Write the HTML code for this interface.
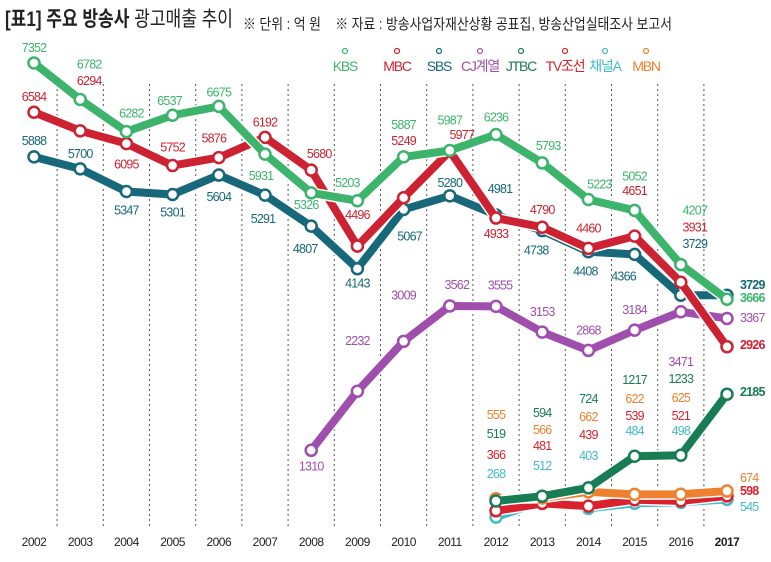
<!DOCTYPE html>
<html><head><meta charset="utf-8"><style>
body{margin:0;background:#fff;}
svg text{font-family:"Liberation Sans","Noto Sans CJK KR",sans-serif;}
</style></head><body>
<svg width="771" height="557" viewBox="0 0 771 557" xmlns="http://www.w3.org/2000/svg">
<g>
<text x="5" y="26" font-size="21" fill="#222" textLength="228" lengthAdjust="spacingAndGlyphs"><tspan font-weight="bold">[표1] 주요 방송사</tspan> 광고매출 추이</text>
<text x="243" y="29" font-size="15" fill="#222" textLength="429" lengthAdjust="spacingAndGlyphs">※ 단위 : 억 원 &#160;&#160;&#160;※ 자료 : 방송사업자재산상황 공표집, 방송산업실태조사 보고서</text>
</g>
<g id="grid"></g><g id="lines"></g><g id="labels"></g><g id="legend"></g><g id="axis"></g>
</svg>
<script>
const years=["2002","2003","2004","2005","2006","2007","2008","2009","2010","2011","2012","2013","2014","2015","2016","2017"];
const kbs=[7352,6782,6282,6537,6675,5931,5326,5203,5887,5987,6236,5793,5223,5052,4207,3666];
const mbc=[6584,6294,6095,5752,5876,6192,5680,4496,5249,5977,4933,4790,4460,4651,3931,2926];
const sbs=[5888,5700,5347,5301,5604,5291,4807,4143,5067,5280,4981,4738,4408,4366,3729,3729];
const cj=[null,null,null,null,null,null,1310,2232,3009,3562,3555,3153,2868,3184,3471,3367];
const jtbc=[null,null,null,null,null,null,null,null,null,null,519,594,724,1217,1233,2185];
const tvc=[null,null,null,null,null,null,null,null,null,null,366,481,439,539,521,598];
const cha=[null,null,null,null,null,null,null,null,null,null,268,512,403,484,498,545];
const mbn=[null,null,null,null,null,null,null,null,null,null,555,566,662,622,625,674];
const NS="http://www.w3.org/2000/svg";
function x(i){return 34+i*46.2;}
function y(v){return 63+(7352-v)*0.0641;}
function mk(tag,attrs,parent){const e=document.createElementNS(NS,tag);for(const k in attrs)e.setAttribute(k,attrs[k]);parent.appendChild(e);return e;}
const G=document.getElementById('grid'),L=document.getElementById('lines'),T=document.getElementById('labels'),LG=document.getElementById('legend'),AX=document.getElementById('axis');
for(let i=0;i<15;i++){const l=mk('line',{x1:x(i)+23.1,x2:x(i)+23.1,y1:84,y2:528,stroke:'#555','stroke-width':1,'stroke-dasharray':'2,3'},G);

}
years.forEach((yr,i)=>{const t=mk('text',{x:x(i),y:546,'font-size':12,'text-anchor':'middle',fill:'#222','font-weight':i==15?'bold':'normal','letter-spacing':'-0.5'},AX);t.textContent=yr;

});
const series=[
{n:'kbs',d:kbs,c:'#3cb46c',lab:'KBS',dy:[-15,-35,-18,-14,-14,22,12,-18,-32,-30,-17,-17,-15,-34,-54,0],dx:[0,9,5,-3,0,-4,-5,-10,0,0,0,6,11,0,14,0]},
{n:'mbc',d:mbc,c:'#cd2232',lab:'MBC',dy:[-15,-50,21,-18,-19,-15,-16,-31,-57,-16,16,-17,-20,-45,-55,0],dx:[0,9,0,0,-5,0,8,0,0,12,0,0,0,0,14,0]},
{n:'sbs',d:sbs,c:'#17687a',lab:'SBS',dy:[-16,-15,19,18,22,24,23,15,27,-13,-26,20,20,22,-51,0],dx:[0,0,0,0,0,-2,-6,0,6,0,4,-6,-3,-11,14,0]},
{n:'cj',d:cj,c:'#a04eae',lab:'CJ계열',dy:[0,0,0,0,0,0,16,-50,-46,-21,-21,-20,-20,-20,50,0],dx:[0,0,0,0,0,0,0,0,0,7,4,0,0,0,0,0]},
{n:'jtbc',d:jtbc,c:'#187c54',lab:'JTBC'},
{n:'tvc',d:tvc,c:'#d9222e',lab:'TV조선'},
{n:'cha',d:cha,c:'#40bcc8',lab:'채널A'},
{n:'mbn',d:mbn,c:'#ee8030',lab:'MBN'}];
const order=[6,5,7,4,3,2,1,0];
order.forEach(k=>{const s=series[k];let p='';s.d.forEach((v,i)=>{if(v!==null)p+=(p?'L':'M')+x(i)+','+y(v);});
const g=mk('g',{},L);


mk('path',{d:p,fill:'none',stroke:'#fff','stroke-width':11,'stroke-linejoin':'round','stroke-linecap':'round'},g);
const pl=mk('path',{d:p,fill:'none',stroke:s.c,'stroke-width':8,'stroke-linejoin':'round','stroke-linecap':'round'},g);


s.d.forEach((v,i)=>{if(v===null)return;const c=mk('circle',{cx:x(i),cy:y(v),r:5.5,fill:'#fff',stroke:s.c,'stroke-width':2.5},g);

});});
function lab(txt,xx,yy,col,anchor,bold){const t=mk('text',{x:xx,y:yy,'font-size':12.5,fill:col,'text-anchor':anchor||'middle','font-weight':bold?'bold':'normal','letter-spacing':'-0.8'},T);t.textContent=txt;

}
series.slice(0,4).forEach(s=>{s.d.forEach((v,i)=>{if(v===null)return;
if(i==15){return;}
lab(v,x(i)+s.dx[i],y(v)+s.dy[i]+4,s.c);});});
const endY={kbs:302,mbc:349,sbs:289,cj:322,jtbc:396,mbn:482,tvc:495,cha:511};
series.forEach(s=>{lab(s.d[15],x(15)+13,endY[s.n],s.c,'start',s.n!='cha'&&s.n!='mbn'&&s.n!='cj');});
const colY=[{mbn:419,jtbc:438,tvc:459,cha:478},{jtbc:417,mbn:434,tvc:450,cha:470},{jtbc:403,mbn:421,tvc:439,cha:460},{jtbc:384,mbn:403,tvc:420,cha:435},{jtbc:383,mbn:402,tvc:420,cha:435}];
series.slice(4).forEach(s=>{for(let i=10;i<15;i++)lab(s.d[i],x(i),colY[i-10][s.n],s.c);});
series.forEach((s,k)=>{const cx=[345,397,439,480,521,565,605,646][k];
const g=mk('g',{},LG);


mk('circle',{cx:cx,cy:51,r:2.5,fill:'#fff',stroke:s.c,'stroke-width':1.2},g);
const t=mk('text',{x:cx,y:71,'font-size':14,fill:s.c,'text-anchor':'middle','letter-spacing':'-1.2'},g);t.textContent=s.lab;});
</script>
</body></html>
